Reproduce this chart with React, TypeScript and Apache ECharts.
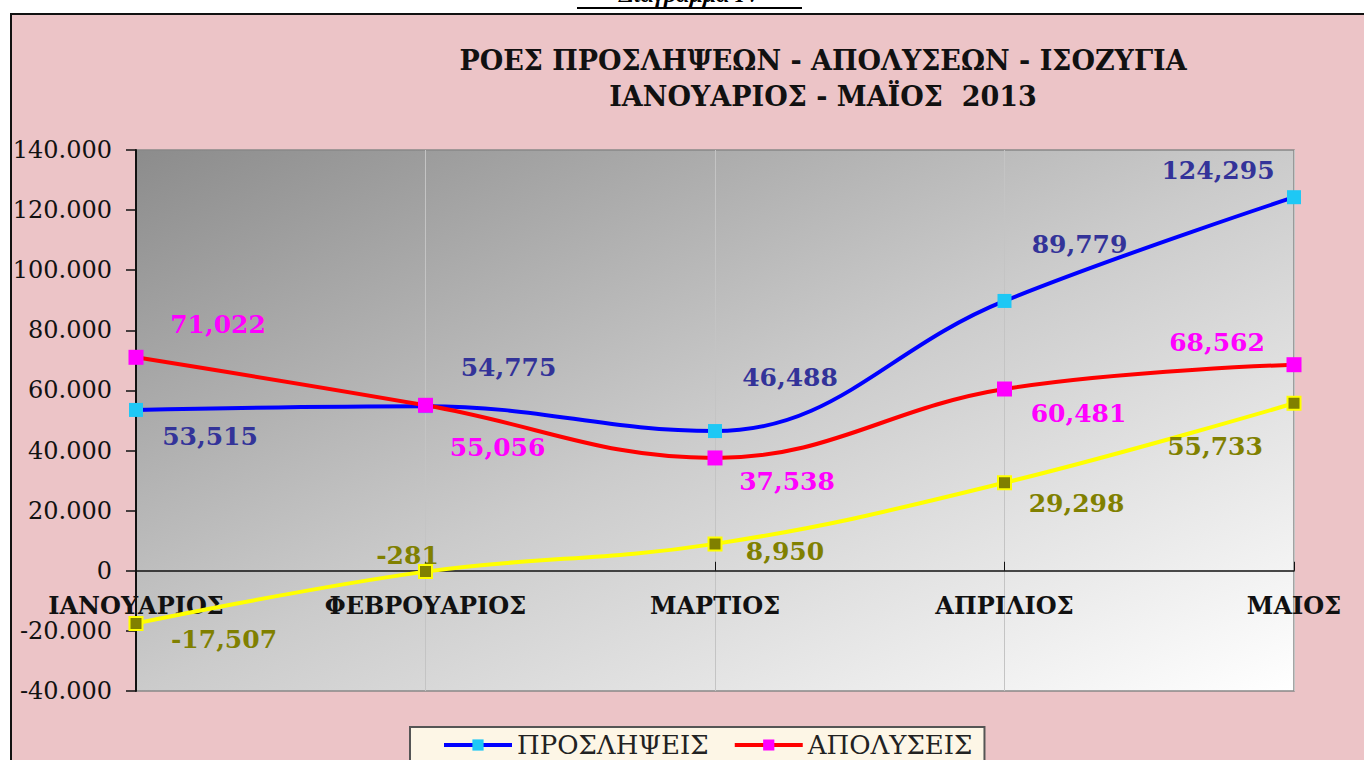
import React, { useEffect, useRef } from "react";
import * as echarts from "echarts";

const months = ["ΙΑΝΟΥΑΡΙΟΣ", "ΦΕΒΡΟΥΑΡΙΟΣ", "ΜΑΡΤΙΟΣ", "ΑΠΡΙΛΙΟΣ", "ΜΑΙΟΣ"];
const hires = [53515, 54775, 46488, 89779, 124295];
const layoffs = [71022, 55056, 37538, 60481, 68562];
const balance = [-17507, -281, 8950, 29298, 55733];
const yTicks = { min: -40000, max: 140000, interval: 20000 };

const hiresLabelOffsets = [[74, 27], [83, -39], [75, -54], [75, -56], [-76, -27]];
const layoffsLabelOffsets = [[82, -33], [72, 42], [72, 24], [74, 25], [-77, -22]];
const balanceLabelOffsets = [[88, 16], [-18, -16], [70, 8], [72, 21], [-79, 43]];

const SERIF = "DejaVu Serif";
const GRID = { left: 136, right: 70, top: 150, bottom: 69 };
const HEIGHT = 760;

function fmtComma(v: number) {
  return v.toLocaleString("en-US");
}

function fmtAxis(v: number) {
  if (v === 0) return "0";
  return (v / 1000).toString() + ".000";
}

function makeData(vals: number[], offsets: number[][], color: string) {
  return vals.map((v, i) => ({
    value: v,
    label: {
      show: true,
      position: "inside",
      offset: offsets[i],
      formatter: () => fmtComma(v),
      color,
      fontFamily: SERIF,
      fontWeight: "bold",
      fontSize: 25,
    },
  }));
}

export default function App() {
  const ref = useRef<HTMLDivElement>(null);
  useEffect(() => {
    document.body.style.margin = "0";
    const chart = echarts.init(ref.current!, undefined, { renderer: "svg" });
    const gridH = HEIGHT - GRID.top - GRID.bottom;
    // distance from the grid bottom up to the value 0, on the value scale
    const zeroLift = (gridH * (0 - yTicks.min)) / (yTicks.max - yTicks.min);
    chart.setOption({
      animation: false,
      backgroundColor: "#ffffff",
      graphic: [
        {
          type: "rect",
          z: -10,
          silent: true,
          shape: { x: 11, y: 14, width: 1400, height: 800 },
          style: { fill: "#ecc4c7", stroke: "#111", lineWidth: 2 },
        },
        {
          type: "text",
          x: 690,
          y: 6,
          style: {
            text: "Διάγραμμα IV",
            font: "italic bold 24px 'Liberation Serif'",
            fill: "#000",
            align: "center",
            verticalAlign: "bottom",
          },
        },
        {
          type: "line",
          shape: { x1: 577, y1: 8, x2: 802, y2: 8 },
          style: { stroke: "#000", lineWidth: 2 },
        },
        {
          type: "text",
          x: 823,
          y: 60,
          style: {
            text: "ΡΟΕΣ ΠΡΟΣΛΗΨΕΩΝ - ΑΠΟΛΥΣΕΩΝ - ΙΣΟΖΥΓΙΑ",
            font: "bold 27px 'DejaVu Serif'",
            fill: "#111",
            align: "center",
            verticalAlign: "middle",
          },
        },
        {
          type: "text",
          x: 823,
          y: 96,
          style: {
            text: "ΙΑΝΟΥΑΡΙΟΣ - ΜΑΪΟΣ  2013",
            font: "bold 27px 'DejaVu Serif'",
            fill: "#111",
            align: "center",
            verticalAlign: "middle",
          },
        },
      ],
      grid: {
        ...GRID,
        show: true,
        borderColor: "#888",
        borderWidth: 1.5,
        backgroundColor: new echarts.graphic.LinearGradient(0, 0, 1, 1, [
          { offset: 0, color: "#8c8c8c" },
          { offset: 0.5, color: "#cbcbcb" },
          { offset: 1, color: "#ffffff" },
        ]),
      },
      legend: {
        data: ["ΠΡΟΣΛΗΨΕΙΣ", "ΑΠΟΛΥΣΕΙΣ"],
        left: 410,
        top: 727,
        backgroundColor: "#fdf6e6",
        borderColor: "#555",
        borderWidth: 2,
        borderRadius: 0,
        padding: [5, 12, 12, 32],
        itemGap: 24,
        itemWidth: 68,
        itemHeight: 14,
        lineStyle: { width: 4 },
        textStyle: { fontFamily: SERIF, fontSize: 26, color: "#222" },
      },
      xAxis: {
        type: "category",
        data: months,
        boundaryGap: false,
        offset: -zeroLift,
        axisLine: { onZero: false, lineStyle: { color: "#111", width: 1.5 } },
        axisTick: { inside: true, length: 9, lineStyle: { color: "#111" } },
        axisLabel: {
          margin: 23,
          fontFamily: SERIF,
          fontWeight: "bold",
          fontSize: 24,
          color: "#111",
          interval: 0,
        },
        splitLine: { show: true, lineStyle: { color: "#c4c4c4", width: 1 } },
      },
      yAxis: {
        type: "value",
        min: yTicks.min,
        max: yTicks.max,
        interval: yTicks.interval,
        axisLine: { show: true, lineStyle: { color: "#111", width: 2 } },
        axisTick: { show: true, length: 10, lineStyle: { color: "#111", width: 1.5 } },
        splitLine: { show: false },
        axisLabel: {
          margin: 24,
          fontFamily: SERIF,
          fontSize: 24,
          color: "#111",
          formatter: fmtAxis,
        },
      },
      series: [
        {
          name: "ΠΡΟΣΛΗΨΕΙΣ",
          type: "line",
          smooth: 0.4,
          symbol: "rect",
          symbolSize: 14,
          lineStyle: { color: "#0000ff", width: 4 },
          itemStyle: { color: "#1ec8f5" },
          data: makeData(hires, hiresLabelOffsets, "#333399"),
          z: 3,
        },
        {
          name: "ΑΠΟΛΥΣΕΙΣ",
          type: "line",
          smooth: 0.4,
          symbol: "rect",
          symbolSize: 15,
          lineStyle: { color: "#ff0000", width: 4 },
          itemStyle: { color: "#ff00ff" },
          data: makeData(layoffs, layoffsLabelOffsets, "#ff00ff"),
          z: 4,
        },
        {
          name: "ΙΣΟΖΥΓΙΟ",
          type: "line",
          smooth: 0.4,
          symbol: "rect",
          symbolSize: 13,
          lineStyle: { color: "#ffff00", width: 4 },
          itemStyle: { color: "#808000", borderColor: "#ffff00", borderWidth: 2 },
          data: makeData(balance, balanceLabelOffsets, "#808000"),
          z: 2,
        },
      ],
    });
    return () => chart.dispose();
  }, []);
  return <div ref={ref} style={{ width: 1364, height: HEIGHT }} />;
}
